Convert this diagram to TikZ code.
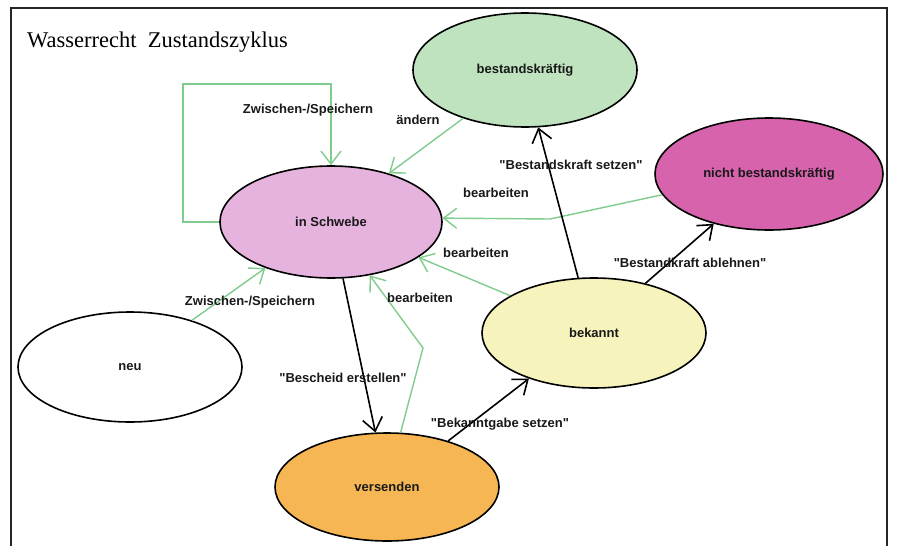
\documentclass[tikz,border=0pt]{standalone}
\usepackage{fontspec}
\setmainfont{Liberation Serif}
% label font without TeX mapping, so " stays a straight quote
\newfontfamily\lblfont{Liberation Sans}
\usetikzlibrary{shapes.geometric,arrows.meta}

\definecolor{fillB}{HTML}{BFE3BF}
\definecolor{fillN}{HTML}{D663AC}
\definecolor{fillS}{HTML}{E6B3DE}
\definecolor{fillV}{HTML}{F7B654}
\definecolor{fillK}{HTML}{F6F4BC}
\definecolor{lgreen}{HTML}{80CC8C}

\begin{document}
\begin{tikzpicture}[x=1pt,y=-1pt,
  state/.style={ellipse, draw=black, line width=1.6pt,
    minimum width=224pt, minimum height=110pt, inner sep=0pt,
    text=black!90, font=\lblfont\bfseries\fontsize{13}{15}\selectfont},
  lbl/.style={inner sep=1pt, text=black!90,
    font=\lblfont\bfseries\fontsize{13}{15}\selectfont},
  gline/.style={draw=lgreen, line width=1.4pt,
    -{Straight Barb[length=13pt,width=20pt]}},
  bline/.style={draw=black, line width=1.6pt,
    -{Straight Barb[length=13pt,width=20pt]}}]

\useasboundingbox (0,0) rectangle (897,546);
\fill[white] (0,0) rectangle (897,546);

% frame
\draw[line width=2.2pt, black!85] (11,546) -- (11,8) -- (887,8) -- (887,546);

% title
\node[anchor=west, inner sep=0pt, font=\fontsize{22.5}{26}\selectfont]
  (title) at (27,42) {Wasserrecht\ \ Zustandszyklus};

% states
\node[state, fill=fillB, minimum height=114pt] (B) at (525,70) {bestandskräftig};
\node[state, fill=fillN, minimum width=228pt, minimum height=112pt] (N) at (769,174) {nicht bestandskräftig};
\node[state, fill=fillS, minimum width=222pt, minimum height=112pt] (S) at (331,222) {in Schwebe};
\node[state, fill=white] (U) at (130,367) {neu};
\node[state, fill=fillV, minimum height=108pt] (V) at (387,487) {versenden};
\node[state, fill=fillK] (K) at (594,333) {bekannt};

% green transitions back to "in Schwebe"
\coordinate (lpA) at (183,84);
\draw[gline] (S.west) -| (lpA) -| (S.north);
\draw[gline] (B.218) -- (S.40);
\coordinate (nbend) at (550,219);
\draw[gline] (N.191) -- (nbend) -- (S.2);
\draw[gline] (K.156) -- (S.338);
\coordinate (vbend) at (423,348);
\draw[gline] (V.76) -- (vbend) -- (S.306);
\draw[gline] (U.37) -- (S.215);

% black transitions
\draw[bline] (S.282) -- (V.102);
\draw[bline] (V.37) -- (K.215);
\draw[bline] (K.106) -- (B.283);
\draw[bline] (K.44) -- (N.222);

% transition labels
\node[lbl] (l1) at (308,110) {Zwischen-/Speichern};
\node[lbl] (l2) at (418,120) {ändern};
\node[lbl] (l3) at (496,193) {bearbeiten};
\node[lbl] (l4) at (476,253) {bearbeiten};
\node[lbl] (l5) at (420,298) {bearbeiten};
\node[lbl] (l6) at (250,302) {Zwischen-/Speichern};
\node[lbl] (l7) at (343,378) {"Bescheid erstellen"};
\node[lbl] (l8) at (500,424) {"Bekanntgabe setzen"};
\node[lbl] (l9) at (571,165) {"Bestandskraft setzen"};
\node[lbl] (l10) at (690,263) {"Bestandkraft ablehnen"};
\end{tikzpicture}
\end{document}
